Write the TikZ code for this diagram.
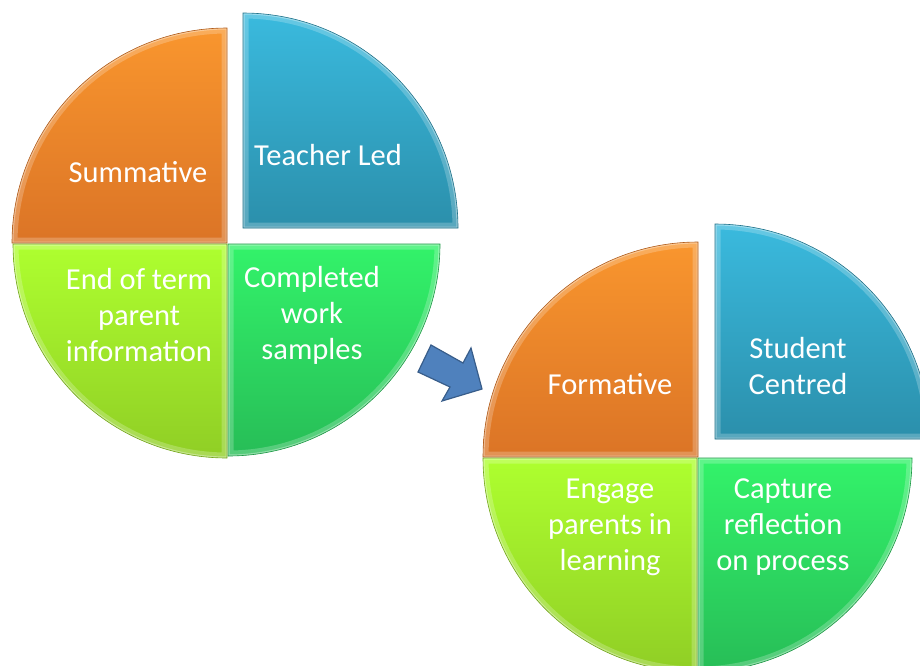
\documentclass[tikz,border=0pt]{standalone}
\usepackage{fontspec}
\setmainfont{Carlito}
\definecolor{orT}{HTML}{F9962E}
\definecolor{orB}{HTML}{DB7426}
\definecolor{blT}{HTML}{3ABADE}
\definecolor{blB}{HTML}{2B8FAB}
\definecolor{grT}{HTML}{33F36A}
\definecolor{grB}{HTML}{27BD57}
\definecolor{ylT}{HTML}{AEFF2F}
\definecolor{ylB}{HTML}{90CE25}
\definecolor{arrowfill}{HTML}{4F81BD}
\definecolor{arrowline}{HTML}{385D8A}
\tikzset{
  lbl/.style={text=white, align=center, inner sep=0pt, font=\fontsize{30.5}{36}\selectfont},
}
% #1 cx, #2 cy, #3 r, #4 start angle, #5 top colour, #6 bottom colour, #7 edge colour
\newcommand\qsector[7]{%
  \shade[top color=#5, bottom color=#6]
    (#1,#2) -- ++(#4:#3) arc[start angle=#4, end angle=#4+90, radius=#3] -- cycle;
  \begin{scope}
    \clip (#1,#2) -- ++(#4:#3) arc[start angle=#4, end angle=#4+90, radius=#3] -- cycle;
    \draw[white, opacity=0.22, line width=11pt]
      (#1,#2) -- ++(#4:#3) arc[start angle=#4, end angle=#4+90, radius=#3] -- cycle;
    \draw[white, opacity=0.35, line width=3pt]
      (#1,#2) -- ++(#4:#3) arc[start angle=#4, end angle=#4+90, radius=#3] -- cycle;
  \end{scope}
  \draw[#7, line width=0.6pt]
    (#1,#2) -- ++(#4:#3) arc[start angle=#4, end angle=#4+90, radius=#3] -- cycle;
}
\begin{document}
\begin{tikzpicture}[x=1pt, y=-1pt]
\useasboundingbox (0,0) rectangle (920,665);
\clip (0,0) rectangle (920,665);
% first circle
\qsector{227}{243}{215}{180}{orT}{orB}{orB!80!black}
\qsector{243}{228}{215}{270}{blT}{blB}{blB!80!black}
\qsector{228}{244}{212}{0}{grT}{grB}{grB!80!black}
\qsector{227}{244}{214}{90}{ylT}{ylB}{ylB!80!black}
% second circle
\qsector{698}{457}{215}{180}{orT}{orB}{orB!80!black}
\qsector{715}{439}{215}{270}{blT}{blB}{blB!80!black}
\qsector{698}{458}{214}{0}{grT}{grB}{grB!80!black}
\qsector{697}{458}{214}{90}{ylT}{ylB}{ylB!80!black}
% arrow
\draw[fill=arrowfill, draw=arrowline, line width=1.2pt, line join=miter]
  (431,345) -- (463,363) -- (471,348) -- (482,389) -- (442,401) -- (450,387) -- (418,372) -- cycle;
% labels
\node[lbl] (summ) at (138,172) {Summative};
\node[lbl] (teach) at (328,155) {Teacher Led};
\node[lbl] (endt) at (139,315) {End of term\\parent\\information};
\node[lbl] (comp) at (312,315) {Completed\\work\\samples};
\node[lbl] (form) at (610,384) {Formative};
\node[lbl] (stud) at (798,366) {Student\\Centred};
\node[lbl] (eng) at (610,527) {Engage\\parents in\\learning};
\node[lbl] (capt) at (783,527) {Capture\\reflection\\on process};
\end{tikzpicture}
\end{document}
